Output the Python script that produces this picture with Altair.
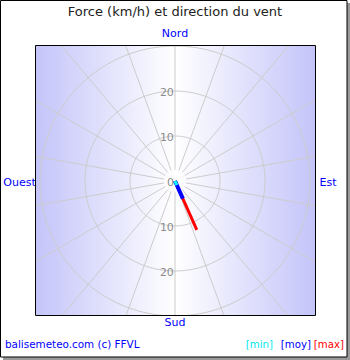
import altair as alt
import numpy as np
import pandas as pd

# ---- data ----
title_text = "Force (km/h) et direction du vent"
ring_values = [10, 20, 30]
ring_label_values = [0, 10, 20, -10, -20]
spoke_angles = list(range(0, 360, 20))
dir_names = ["Nord", "Est", "Sud", "Ouest"]
series_names = ["max", "moy", "min"]
series_speed = [11.9, 4.3, 1.0]          # km/h
series_dir = [156, 156, 156]              # degrees, clockwise from Nord
series_colors = ["#ff0000", "#0000ff", "#00ffff"]
series_widths = [3, 4, 3]
footer_left = "balisemeteo.com (c) FFVL"
legend_labels = ["[min]", "[moy]", "[max]"]

# ---- geometry of the polar frame ----
PX = 4.5                     # pixels per km/h
W, H = 280, 270              # plot rectangle
PAD_L, PAD_T = 35, 45
CX, CY = 175, 181            # centre on canvas
xs = alt.Scale(domain=[-(CX - PAD_L) / PX, (PAD_L + W - CX) / PX], nice=False, zero=False)
ys = alt.Scale(domain=[-(PAD_T + H - CY) / PX, (CY - PAD_T) / PX], nice=False, zero=False)
X = lambda f: alt.X(f, type="quantitative", scale=xs, axis=None)
Y = lambda f: alt.Y(f, type="quantitative", scale=ys, axis=None)
X2 = lambda f: alt.X2(f)
Y2 = lambda f: alt.Y2(f)

# rings
ring_rows = []
for r in ring_values:
    for i, a in enumerate(np.arange(0, 361, 2)):
        t = np.radians(a)
        ring_rows.append({"ring": r, "i": i, "x": r * np.sin(t), "y": r * np.cos(t)})
rings_df = pd.DataFrame(ring_rows)

# spokes
spk = []
for a in spoke_angles:
    t = np.radians(a)
    spk.append({"a": a, "x": 2.5 * np.sin(t), "y": 2.5 * np.cos(t),
                "x2": 60 * np.sin(t), "y2": 60 * np.cos(t)})
spokes_df = pd.DataFrame(spk)

# ring labels
rl_df = pd.DataFrame({"y": ring_label_values, "t": [str(abs(v)) for v in ring_label_values],
                      "x": [-0.25] * len(ring_label_values)})

# direction labels
dir_pos = {"Nord": (0, (CY - 34) / PX), "Est": ((328 - CX) / PX, (CY - 183) / PX),
           "Sud": (0, (CY - 323) / PX), "Ouest": ((19.5 - CX) / PX, (CY - 183) / PX)}
dir_df = pd.DataFrame({"t": dir_names, "x": [dir_pos[d][0] for d in dir_names],
                       "y": [dir_pos[d][1] for d in dir_names]})

# wind vectors
wind_df = pd.DataFrame({
    "s": series_names,
    "x0": [0.0] * 3, "y0": [0.0] * 3,
    "x1": [v * np.sin(np.radians(d)) for v, d in zip(series_speed, series_dir)],
    "y1": [v * np.cos(np.radians(d)) for v, d in zip(series_speed, series_dir)],
})

one = pd.DataFrame({"a": [0]})

# ---- layers ----
shadow = alt.Chart(one).mark_rect(fill="#9a9a9a").encode(
    x=alt.value(3 - PAD_L), x2=alt.value(350 - PAD_L),
    y=alt.value(3 - PAD_T), y2=alt.value(360 - PAD_T))
box = alt.Chart(one).mark_rect(fill="white", stroke="black", strokeWidth=1).encode(
    x=alt.value(0.5 - PAD_L), x2=alt.value(347 - PAD_L),
    y=alt.value(0.5 - PAD_T), y2=alt.value(357 - PAD_T))

grad = alt.LinearGradient(
    gradient="linear", x1=0, x2=1, y1=0, y2=0,
    stops=[alt.GradientStop(color="#c4c4fa", offset=0),
           alt.GradientStop(color="#ffffff", offset=0.5),
           alt.GradientStop(color="#c4c4fa", offset=1)])
bg = alt.Chart(one).mark_rect(fill=grad).encode(
    x=alt.value(0), x2=alt.value(W), y=alt.value(0), y2=alt.value(H))

frame = alt.Chart(one).mark_rect(fillOpacity=0, stroke="black", strokeWidth=1).encode(
    x=alt.value(0.5), x2=alt.value(W + 0.5), y=alt.value(0.5), y2=alt.value(H + 0.5))

spokes = alt.Chart(spokes_df).mark_rule(color="#cccccc", strokeWidth=1, clip=True).encode(
    x=X("x"), y=Y("y"), x2=X2("x2"), y2=Y2("y2"))

rings = alt.Chart(rings_df).mark_line(color="#cccccc", strokeWidth=1, clip=True).encode(
    x=X("x"), y=Y("y"), detail="ring:N", order="i:Q")

rlabels = alt.Chart(rl_df).mark_text(align="right", baseline="middle", dy=2,
                                     font="DejaVu Sans", fontSize=11, color="#8c8c8c").encode(
    x=X("x"), y=Y("y"), text="t:N")

dlabels = alt.Chart(dir_df).mark_text(align="center", baseline="middle",
                                      font="DejaVu Sans", fontSize=11, color="#0000ff").encode(
    x=X("x"), y=Y("y"), text="t:N")

wind_layers = []
for name, col, w in zip(series_names, series_colors, series_widths):
    wind_layers.append(
        alt.Chart(wind_df[wind_df.s == name]).mark_rule(color=col, strokeWidth=w).encode(
            x=X("x0"), y=Y("y0"), x2=X2("x1"), y2=Y2("y1")))

title = alt.Chart(pd.DataFrame({"t": [title_text]})).mark_text(
    align="center", baseline="middle", font="DejaVu Sans", fontSize=13, color="#222222").encode(
    x=alt.value(175 - PAD_L), y=alt.value(12 - PAD_T), text="t:N")

footer = alt.Chart(pd.DataFrame({"t": [footer_left]})).mark_text(
    align="left", baseline="middle", font="DejaVu Sans", fontSize=10.4, color="#0000ff").encode(
    x=alt.value(5 - PAD_L), y=alt.value(345 - PAD_T), text="t:N")

leg_df = pd.DataFrame({"t": legend_labels, "c": ["#00e8f0", "#0000ff", "#ff0000"],
                       "px": [273, 311, 344]})
legend = alt.Chart(leg_df).mark_text(
    align="right", baseline="middle", font="DejaVu Sans", fontSize=10.2).encode(
    x=alt.X("px:Q", scale=alt.Scale(domain=[PAD_L, PAD_L + W], range=[0, W]), axis=None),
    y=alt.value(345 - PAD_T), text="t:N",
    color=alt.Color("c:N", scale=None))

chart = alt.layer(shadow, box, bg, spokes, rings, rlabels, dlabels, *wind_layers,
                  frame, title, footer, legend).resolve_scale(x="independent").properties(
    width=W, height=H,
    padding={"left": PAD_L, "top": PAD_T, "right": 350 - PAD_L - W, "bottom": 360 - PAD_T - H},
    autosize=alt.AutoSizeParams(type="none"),
    background="white",
).configure_view(stroke=None)

chart.save("out.html", embed_options={"renderer": "svg", "actions": False})
